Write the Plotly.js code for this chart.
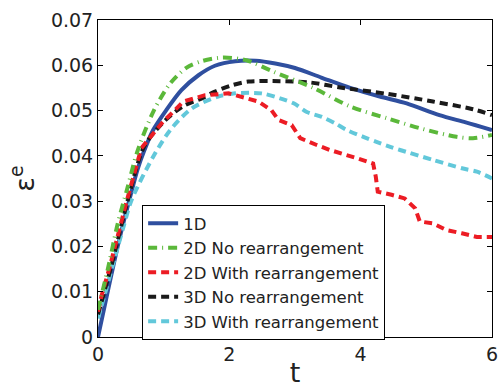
<!DOCTYPE html>
<html>
<head>
<meta charset="utf-8">
<script src="https://cdn.plot.ly/plotly-3.0.1.min.js"></script>
<style>html,body{margin:0;padding:0;background:#fff;}#chart{width:503px;height:388px;}</style>
</head>
<body>
<div id="chart"></div>
<script>
const names = ["1D", "2D No rearrangement", "2D With rearrangement", "3D No rearrangement", "3D With rearrangement"];

const t1D = [0, 0.1, 0.2, 0.3, 0.4, 0.5, 0.6, 0.7, 0.84, 1.04, 1.27, 1.53, 1.78, 2.09, 2.4, 2.7, 3.0, 3.4, 3.84, 4.29, 4.7, 5.2, 5.6, 6.0];
const e1D = [0, 0.0068, 0.0135, 0.02, 0.026, 0.0315, 0.0369, 0.041, 0.0457, 0.0501, 0.0545, 0.0578, 0.0599, 0.0609, 0.061, 0.0604, 0.0594, 0.0573, 0.055, 0.0531, 0.0516, 0.049, 0.0474, 0.0457];

const t2DNo = [0, 0.05, 0.15, 0.3, 0.45, 0.6, 0.85, 1.1, 1.35, 1.6, 1.9, 2.26, 2.67, 3.28, 3.84, 4.4, 4.9, 5.46, 5.71, 6.0];
const e2DNo = [0.006, 0.009, 0.015, 0.025, 0.033, 0.041, 0.05, 0.056, 0.0595, 0.061, 0.0617, 0.0611, 0.0586, 0.055, 0.0509, 0.0483, 0.0461, 0.0442, 0.0439, 0.0446];

const t2DWith = [0, 0.05, 0.18, 0.31, 0.44, 0.66, 0.97, 1.3, 1.63, 1.99, 2.44, 2.64, 2.75, 2.95, 3.08, 3.33, 3.53, 3.94, 4.19, 4.23, 4.26, 4.47, 4.67, 4.83, 4.9, 5.1, 5.31, 5.54, 5.77, 6.0];
const e2DWith = [0.0056, 0.0089, 0.0155, 0.0229, 0.0302, 0.0417, 0.0472, 0.052, 0.0534, 0.0538, 0.052, 0.0501, 0.0479, 0.0468, 0.0439, 0.0424, 0.0413, 0.0395, 0.0383, 0.0354, 0.0321, 0.0314, 0.0306, 0.0284, 0.0255, 0.0251, 0.0236, 0.0229, 0.0221, 0.0221];

const t3DNo = [0, 0.2, 0.45, 0.7, 1.0, 1.3, 1.58, 1.78, 2.04, 2.29, 2.77, 3.23, 3.69, 4.4, 5.1, 5.71, 6.0];
const e3DNo = [0.005, 0.0155, 0.03, 0.042, 0.0475, 0.051, 0.0527, 0.0542, 0.0556, 0.0564, 0.0565, 0.0562, 0.0551, 0.0537, 0.052, 0.0503, 0.049];

const t3DWith = [0, 0.13, 0.26, 0.39, 0.51, 0.84, 1.1, 1.43, 1.83, 2.09, 2.49, 2.77, 2.98, 3.18, 3.41, 3.61, 3.79, 4.04, 4.24, 4.45, 4.6, 5.1, 5.56, 5.77, 6.0];
const e3DWith = [0.0041, 0.0108, 0.0177, 0.0244, 0.0302, 0.0398, 0.0457, 0.0505, 0.0531, 0.0538, 0.0538, 0.0527, 0.0516, 0.0497, 0.0486, 0.0472, 0.0457, 0.0442, 0.0431, 0.042, 0.0413, 0.0391, 0.0372, 0.0365, 0.035];

const xTicks = [0, 2, 4, 6];
const yTicks = [0, 0.01, 0.02, 0.03, 0.04, 0.05, 0.06, 0.07];
const yTickText = ["0", "0.01", "0.02", "0.03", "0.04", "0.05", "0.06", "0.07"];

// drawing order differs from legend order; legendrank keeps the legend as in the reference
const traces = [
  {x: t1D, y: e1D, name: names[0], legendrank: 1, mode: "lines", line: {color: "#2f4f9f", width: 4, shape: "spline", smoothing: 0.8}},
  {x: t3DWith, y: e3DWith, name: names[4], legendrank: 5, mode: "lines", line: {color: "#62c8da", width: 4, dash: "8px,5px", shape: "spline", smoothing: 0.8}},
  {x: t3DNo, y: e3DNo, name: names[3], legendrank: 4, mode: "lines", line: {color: "#1a1a1a", width: 4, dash: "8px,5px", shape: "spline", smoothing: 0.8}},
  {x: t2DWith, y: e2DWith, name: names[2], legendrank: 3, mode: "lines", line: {color: "#ec1c24", width: 4, dash: "8px,5px"}},
  {x: t2DNo, y: e2DNo, name: names[1], legendrank: 2, mode: "lines", line: {color: "#5bb83a", width: 4, dash: "9px,5px,1px,5px", shape: "spline", smoothing: 0.8}}
];

const layout = {
  width: 503, height: 388,
  margin: {l: 98, r: 11, t: 20, b: 51},
  paper_bgcolor: "#fff", plot_bgcolor: "#fff",
  font: {family: "DejaVu Sans, Liberation Sans, sans-serif", color: "#222"},
  showlegend: true,
  legend: {
    x: 0.112, y: 0.416, xanchor: "left", yanchor: "top",
    bordercolor: "#000", borderwidth: 1, bgcolor: "#fff",
    traceorder: "normal",
    font: {size: 16.5, color: "#222"}
  },
  xaxis: {
    range: [0, 6], tickvals: xTicks, ticktext: xTicks.map(String),
    ticks: "inside", ticklen: 5, tickcolor: "#000", showgrid: false, zeroline: false,
    showline: true, linecolor: "#000", linewidth: 1, mirror: "ticks",
    tickfont: {size: 19, color: "#222"},
    title: {text: "t", font: {size: 27, color: "#222"}, standoff: 2}
  },
  yaxis: {
    range: [0, 0.07], tickvals: yTicks, ticktext: yTickText,
    ticks: "inside", ticklen: 5, tickcolor: "#000", showgrid: false, zeroline: false,
    showline: true, linecolor: "#000", linewidth: 1, mirror: "ticks",
    tickfont: {size: 19, color: "#222"},
    title: {text: "ε<sup>e</sup>", font: {size: 27, color: "#222"}, standoff: 8}
  }
};

Plotly.newPlot("chart", traces, layout, {displayModeBar: false, staticPlot: true});
</script>
</body>
</html>
